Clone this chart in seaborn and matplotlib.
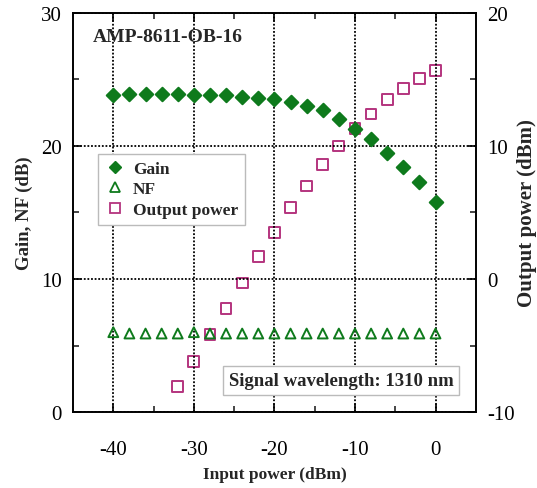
import matplotlib
matplotlib.use('Agg')
import matplotlib.pyplot as plt
import seaborn as sns
from matplotlib.ticker import MultipleLocator
from matplotlib.lines import Line2D

# ---- data ----
input_power = [-40, -38, -36, -34, -32, -30, -28, -26, -24, -22, -20,
               -18, -16, -14, -12, -10, -8, -6, -4, -2, 0]
gain_db = [23.8, 23.9, 23.9, 23.9, 23.9, 23.8, 23.8, 23.8, 23.7, 23.6, 23.5,
           23.3, 23.0, 22.7, 22.0, 21.3, 20.5, 19.5, 18.4, 17.3, 15.8]
nf_db = [6.0, 5.9, 5.9, 5.9, 5.9, 6.0, 5.9, 5.9, 5.9, 5.9, 5.9,
         5.9, 5.9, 5.9, 5.9, 5.9, 5.9, 5.9, 5.9, 5.9, 5.9]
out_input = [-32, -30, -28, -26, -24, -22, -20, -18, -16, -14, -12,
             -10, -8, -6, -4, -2, 0]
output_dbm = [-8.1, -6.2, -4.2, -2.2, -0.3, 1.7, 3.5, 5.4, 7.0, 8.6, 10.0,
              11.3, 12.4, 13.5, 14.3, 15.1, 15.7]

x_ticks = [-40, -30, -20, -10, 0]
left_ticks = [0, 10, 20, 30]
right_ticks = [-10, 0, 10, 20]

sns.set_style('ticks')
plt.rcParams['font.family'] = ['Liberation Serif', 'DejaVu Serif']
plt.rcParams['axes.unicode_minus'] = False

green = '#0e7a1c'
purple = '#b4347e'

fig = plt.figure(figsize=(5.37, 4.89), dpi=100)
ax = fig.add_axes([0.136, 0.1554, 0.750, 0.816])
ax2 = ax.twinx()
ax.set_zorder(ax2.get_zorder() + 1)
ax.patch.set_visible(False)

sns.scatterplot(x=out_input, y=output_dbm, ax=ax2, marker='s', s=60,
                facecolor='none', edgecolor=purple, linewidth=1.4, zorder=3)
sns.scatterplot(x=input_power, y=nf_db, ax=ax, marker='^', s=50,
                facecolor='none', edgecolor=green, linewidth=1.4, zorder=4)
sns.scatterplot(x=input_power, y=gain_db, ax=ax, marker='D', s=48,
                color=green, edgecolor=green, linewidth=1.4, zorder=5)

ax.set_xlim(-45, 5)
ax.set_ylim(0, 30)
ax2.set_ylim(-10, 20)
ax.set_xticks(x_ticks)
ax.set_yticks(left_ticks)
ax2.set_yticks(right_ticks)
ax.xaxis.set_minor_locator(MultipleLocator(5))
ax.yaxis.set_minor_locator(MultipleLocator(5))
ax2.yaxis.set_minor_locator(MultipleLocator(5))

ax.grid(True, which='major', color='black', linestyle=(0, (1, 1)), linewidth=1.3)
ax2.grid(False)

for a in (ax, ax2):
    for sp in a.spines.values():
        sp.set_visible(True)
        sp.set_color('black')
        sp.set_linewidth(1.2)

ax.tick_params(which='major', direction='in', length=6, width=1.2, top=True,
               right=False, labelsize=15, colors='black')
ax.tick_params(axis='x', which='major', pad=20)
ax.tick_params(axis='y', which='major', pad=8)
ax.tick_params(which='minor', direction='in', length=4, width=1.2, top=True,
               right=False)
ax2.tick_params(which='major', direction='in', length=6, width=1.2,
                labelsize=15, colors='black', pad=8)
ax2.tick_params(which='minor', direction='in', length=4, width=1.2)

ax.set_xlabel('Input power (dBm)', fontsize=12.5, fontweight='bold', labelpad=5)
ax.set_ylabel('Gain, NF (dB)', fontsize=13.5, fontweight='bold', labelpad=6)
ax2.set_ylabel('Output power (dBm)', fontsize=15, fontweight='bold',
               va='center', ha='center')
ax2.yaxis.set_label_coords(1.128, 0.5)

handles = [
    Line2D([], [], linestyle='none', marker='D', markersize=6,
           color=green, markeredgecolor=green),
    Line2D([], [], linestyle='none', marker='^', markersize=7,
           markerfacecolor='none', markeredgecolor=green, markeredgewidth=1.3),
    Line2D([], [], linestyle='none', marker='s', markersize=7,
           markerfacecolor='none', markeredgecolor=purple, markeredgewidth=1.3),
]
leg = ax.legend(handles, ['Gain', 'NF', 'Output power'], loc='upper left',
                bbox_to_anchor=(0.062, 0.647), borderaxespad=0,
                prop={'weight': 'bold', 'size': 12.5}, frameon=True,
                fancybox=False, edgecolor='#bbbbbb', framealpha=1,
                handletextpad=0.4, labelspacing=0.25, handlelength=1.2,
                borderpad=0.4)
leg.get_frame().set_linewidth(1.0)

ax.text(0.05, 0.962, 'AMP-8611-OB-16', transform=ax.transAxes,
        fontsize=14, fontweight='bold', va='top', ha='left', zorder=6)
ax.text(0.666, 0.079, 'Signal wavelength: 1310 nm', transform=ax.transAxes,
        fontsize=13.5, fontweight='bold', va='center', ha='center', zorder=6,
        bbox=dict(boxstyle='square,pad=0.3', facecolor='white',
                  edgecolor='#bbbbbb', linewidth=1.0))

fig.savefig('out.png', dpi=100)
